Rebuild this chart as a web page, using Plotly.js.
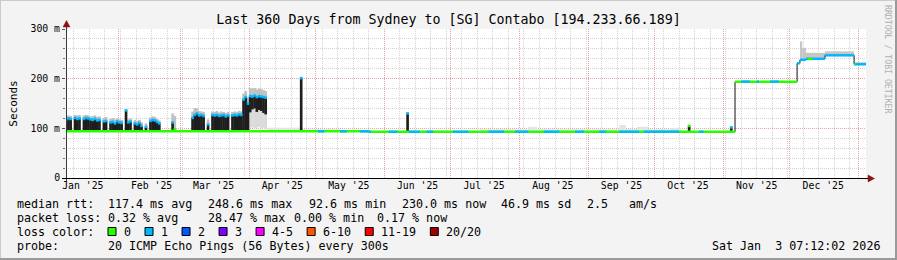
<!DOCTYPE html>
<html><head><meta charset="utf-8">
<script src="https://cdn.plot.ly/plotly-3.0.1.min.js"></script>
<style>html,body{margin:0;padding:0;background:#f3f3f3;}#chart{width:897px;height:260px;}</style>
</head><body><div id="chart"></div>
<script>
// ---------------- data ----------------
const titleText = 'Last 360 Days from Sydney to [SG] Contabo [194.233.66.189]';
const rangeStart = '2025-01-08 09:50';
const rangeEnd = '2026-01-04 07:00';

const monthStarts = ['2025-01-01','2025-02-01','2025-03-01','2025-04-01','2025-05-01','2025-06-01','2025-07-01','2025-08-01','2025-09-01','2025-10-01','2025-11-01','2025-12-01'];
const monthLabels = ["Jan '25","Feb '25","Mar '25","Apr '25","May '25","Jun '25","Jul '25","Aug '25","Sep '25","Oct '25","Nov '25","Dec '25"];
const yTickVals = [0,100,200,300];
const yTickLabels = ['0','100 m','200 m','300 m'];

// days where the median swings fast (dark columns), in ms
const darkDates = ['2025-01-08','2025-01-09','2025-01-10','2025-01-12','2025-01-13','2025-01-14','2025-01-16','2025-01-17','2025-01-18','2025-01-19','2025-01-20','2025-01-21','2025-01-22','2025-01-23','2025-01-25','2025-01-26','2025-01-28','2025-01-29','2025-01-30','2025-01-31',
 '2025-02-01','2025-02-02','2025-02-04','2025-02-05','2025-02-06','2025-02-08','2025-02-09','2025-02-10','2025-02-11','2025-02-13','2025-02-15','2025-02-16','2025-02-17','2025-02-18','2025-02-19',
 '2025-02-25','2025-02-26',
 '2025-03-06','2025-03-07','2025-03-08','2025-03-09','2025-03-10','2025-03-11','2025-03-13','2025-03-15','2025-03-16','2025-03-17','2025-03-18','2025-03-19','2025-03-20','2025-03-21','2025-03-22','2025-03-24','2025-03-25','2025-03-26','2025-03-27','2025-03-28','2025-03-29','2025-03-30','2025-03-31',
 '2025-04-01','2025-04-02','2025-04-03','2025-04-04','2025-04-05','2025-04-06','2025-04-07','2025-04-08',
 '2025-04-24','2025-06-11','2025-10-16','2025-11-04'];
const darkLow = [94,94,94,94,94,94,94,94,94,94,94,94,94,94,94,94,94,94,94,94,
 94,94,94,94,94,94,94,94,94,94,94,94,94,94,94,
 97,94,
 94,94,94,94,94,94,94,94,94,94,94,94,94,94,94,94,94,94,94,94,94,94,94,
 132,138,140,133,137,135,131,128,
 94,93,93,93];
const darkHigh = [117,120,119,121,119,120,119,121,120,118,117,119,116,117,114,115,112,113,110,114,
 112,111,136,112,114,110,108,111,105,103,115,117,116,113,110,
 112,98,
 121,127,130,126,127,125,108,127,126,127,125,126,127,124,126,126,127,126,128,127,158,163,150,
 165,164,166,163,165,164,163,162,
 201,130,105,102];
const smokeTop = [124,126,125,127,126,127,126,127,126,124,125,126,123,124,121,123,119,121,118,120,
 118,117,139,118,120,117,115,117,112,110,122,124,123,119,116,
 130,125,
 134,141,140,135,134,133,118,134,133,135,132,134,133,131,133,133,134,133,135,134,170,175,162,
 181,180,181,178,180,179,177,175,
 203,132,106,103];
const topLoss = [1,1,1,1,1,1,1,1,1,1,1,1,1,1,1,1,1,1,1,1,
 1,1,1,1,1,1,1,1,1,1,1,1,1,1,1,
 1,0,
 1,1,1,1,1,1,1,1,1,1,1,1,1,1,1,1,1,1,1,1,1,1,1,
 1,1,1,1,1,1,1,1,
 1,1,0,1];

// haze below the raised median in early April
const hazeDates = ['2025-04-01','2025-04-02','2025-04-03','2025-04-04','2025-04-05','2025-04-06','2025-04-07','2025-04-08'];
const hazeLow = [101,102,100,101,103,100,101,100];
const hazeHigh = [132,138,140,133,137,135,131,128];

// light smoke over the flat months
const smokeFrom = ['2025-04-09','2025-04-24','2025-06-18','2025-07-14','2025-08-05','2025-08-09','2025-09-15','2025-09-18','2025-09-23','2025-09-28','2025-10-08'];
const smokeTo   = ['2025-04-24','2025-05-12','2025-07-02','2025-08-05','2025-08-09','2025-09-15','2025-09-18','2025-09-23','2025-09-28','2025-10-08','2025-10-13'];
const smokeLow  = [94,94,93,93,93,93,93,93,93,93,93];
const smokeHigh = [101,98,96,98,103,98,107,99,103,98,101];

// smoke in December
const decFrom = ['2025-12-05 12:00','2025-12-06 12:00','2025-12-08 05:00','2025-12-16 19:00','2025-12-29 22:00'];
const decTo   = ['2025-12-06 12:00','2025-12-08 05:00','2025-12-16 19:00','2025-12-29 22:00','2026-01-04 07:00'];
const decLow  = [238,238,240,247,229];
const decHigh = [275,262,252,255,233];

// median rtt steps (ms)
const medDates = ['2025-01-08 09:50','2025-05-25','2025-11-06 05:00','2025-12-04 05:00','2025-12-05 12:00','2025-12-08 05:00','2025-12-16 19:00','2025-12-29 22:00','2026-01-04 07:00'];
const medVals  = [94,93,194,231,238,240,247,229,229];

// median colour by loss (pings lost of 20)
const segFrom = ['2025-01-08 09:50','2025-05-25','2025-11-06 05:00',
 '2025-12-04 05:00','2025-12-05 12:00','2025-12-08 05:00','2025-12-16 19:00','2025-12-29 22:00',
 '2025-12-09','2025-12-29 22:00',
 '2025-05-02','2025-05-12','2025-05-21','2025-05-25','2025-06-03','2025-06-12','2025-06-20','2025-07-02','2025-07-18','2025-07-30','2025-08-12','2025-08-26','2025-09-06','2025-09-15','2025-09-26','2025-10-21','2025-11-09','2025-11-16','2025-11-22'];
const segTo = ['2025-05-25','2025-11-06 05:00','2025-12-04 05:00',
 '2025-12-05 12:00','2025-12-08 05:00','2025-12-16 19:00','2025-12-29 22:00','2026-01-04 07:00',
 '2025-12-11','2025-12-30 12:00',
 '2025-05-05','2025-05-15','2025-05-25','2025-05-26','2025-06-07','2025-06-17','2025-06-23','2025-07-09','2025-07-25','2025-08-05','2025-08-19','2025-08-30','2025-09-09','2025-09-24','2025-10-12','2025-10-23','2025-11-13','2025-11-17','2025-11-26'];
const segVal = [94,93,194,
 231,238,240,247,229,
 240,229,
 94,94,94,93,93,93,93,93,93,93,93,93,93,93,93,93,194,194,194];
const segLoss = [0,0,0,
 1,1,1,1,1,
 0,0,
 1,1,1,1,1,1,1,1,1,1,1,1,1,1,1,1,1,1,1];

const lossColors = ['#26ff00','#00b8ff','#0059ff','#7e00ff','#ff00ff','#ff5500','#ff0000','#a10000'];
const lossLabels = ['0','1','2','3','4-5','6-10','11-19','20/20'];

const rttItems  = ['median rtt:','117.4 ms avg','248.6 ms max','92.6 ms min','230.0 ms now','46.9 ms sd','2.5','am/s'];
const lossItems = ['packet loss:','0.32 % avg','28.47 % max','0.00 % min','0.17 % now'];
const colorHead = 'loss color:';
const probeItems = ['probe:','20 ICMP Echo Pings (56 Bytes) every 300s'];
const stampText = 'Sat Jan  3 07:12:02 2026';
const creditText = 'RRDTOOL / TOBI OETIKER';

// ---------------- drawing ----------------
const FONT = '"DejaVu Sans Mono", monospace';
const W = 897, H = 260, M = {l:66, r:31, t:29, b:82};
const PW = W - M.l - M.r, PH = H - M.t - M.b;
const px = x => (x - M.l) / PW;
const py = y => (M.t + PH - y) / PH;
const DAY = 86400000;
const nb = s => s.replace(/ /g, '\u00a0');
const toMs = s => { const p = s.split(' '); return Date.parse(p[0] + 'T' + (p[1] || '00:00') + ':00Z'); };
const toStr = ms => new Date(ms).toISOString().replace('T', ' ').slice(0, 19);

const noon = darkDates.map(d => d + ' 12:00');
const colW = DAY * 1.2;
const traces = [];

function rectBars(from, to, lo, hi, color) {
  return {type:'bar', x: from.map((f,i) => toStr((toMs(f) + toMs(to[i])) / 2)),
    width: from.map((f,i) => toMs(to[i]) - toMs(f)),
    base: lo, y: hi.map((h,i) => h - lo[i]),
    marker:{color: color, line:{width:0}}, hoverinfo:'skip', showlegend:false};
}
traces.push(rectBars(smokeFrom, smokeTo, smokeLow, smokeHigh, '#e4e4e4'));
traces.push(rectBars(decFrom, decTo, decLow, decHigh, '#c6c6c6'));
traces.push({type:'bar', x: hazeDates.map(d => d + ' 12:00'), width: colW, base: hazeLow,
  y: hazeHigh.map((h,i) => h - hazeLow[i]), marker:{color:'#dadada', line:{width:0}}, hoverinfo:'skip', showlegend:false});
traces.push({type:'bar', x: noon, width: colW, base: darkHigh, y: smokeTop.map((s,i) => s - darkHigh[i]),
  marker:{color:'#c0c0c0', line:{width:0}}, hoverinfo:'skip', showlegend:false});
traces.push({type:'bar', x: noon, width: colW, base: darkLow, y: darkHigh.map((h,i) => h - darkLow[i]),
  marker:{color:'#1e1e1e', line:{width:0}}, hoverinfo:'skip', showlegend:false});

traces.push({type:'scatter', mode:'lines', x: medDates, y: medVals, line:{color:'#111', width:1, shape:'hv'}, hoverinfo:'skip', showlegend:false});

let cur = null;
segFrom.forEach((f, i) => {
  if (!cur || cur.loss !== segLoss[i]) {
    cur = {loss: segLoss[i], x: [], y: []};
    traces.push({type:'scatter', mode:'lines', x: cur.x, y: cur.y, connectgaps:false,
      line:{color: lossColors[segLoss[i]], width:2.5}, hoverinfo:'skip', showlegend:false});
  }
  cur.x.push(f, segTo[i], null);
  cur.y.push(segVal[i], segVal[i], null);
});

traces.push({type:'scatter', mode:'markers', x: noon, y: darkHigh,
  marker:{symbol:'square', size:2.6, color: topLoss.map(l => lossColors[l]), line:{width:0}}, hoverinfo:'skip', showlegend:false});

traces.push({type:'scatter', x: [], y: [], xaxis:'x2', yaxis:'y', showlegend:false, hoverinfo:'skip'});

const tickFont = {family: FONT, size: 9.8, color: '#000'};
const gridRed = '#eba4a4', gridGrey = '#d4d4d4';

const shapes = [];
const line = (x0,y0,x1,y1,color,w) => shapes.push({type:'line', xref:'paper', yref:'paper', x0:px(x0), y0:py(y0), x1:px(x1), y1:py(y1), line:{color:color, width:w}});
line(0, 0.5, W, 0.5, '#cbcbcb', 1);
line(0.5, 0, 0.5, H, '#cbcbcb', 1);
line(0, H-1, W, H-1, '#9a9a9a', 2);
line(W-1, 0, W-1, H, '#9a9a9a', 2);
line(66.5, 181, 66.5, 25, '#3a3a3a', 1);
line(62, 178.5, 869, 178.5, '#000', 1);
const tri = (pts, color) => shapes.push({type:'path', xref:'paper', yref:'paper',
  path: 'M' + pts.map(p => px(p[0]) + ',' + py(p[1])).join(' L') + ' Z', fillcolor: color, line:{color: color, width:0.5}});
tri([[63,27],[66.5,20.5],[70,27]], '#8e1010');
tri([[868,175],[874.5,178.5],[868,182]], '#8e1010');

// legend text layout (pixel positions)
const ann = [];
const rowY = [204, 218, 232, 246];
const rttX = [16, 107.3, 207.3, 308, 400.7, 500, 586, 628.3];
const lossX = [16, 107.3, 207.3, 293, 376];
const probeX = [16, 107.3];
const txt = (s, x, y, anchor) => ann.push({xref:'paper', yref:'paper', x: px(x), y: py(y), xanchor: anchor || 'left', yanchor:'middle',
  text: nb(s), showarrow:false, borderpad:0, font:{family: FONT, size: 11.66, color:'#000'}});
rttItems.forEach((s, i) => txt(s, rttX[i], rowY[0]));
lossItems.forEach((s, i) => txt(s, lossX[i], rowY[1]));
txt(colorHead, 16, rowY[2]);
probeItems.forEach((s, i) => txt(s, probeX[i], rowY[3]));
let lx = 108;
lossLabels.forEach((lab, i) => {
  shapes.push({type:'rect', xref:'paper', yref:'paper', x0: px(lx), x1: px(lx + 8), y0: py(235.5), y1: py(227.5),
    fillcolor: lossColors[i], line:{color:'#000', width:1}});
  txt(lab, lx + 15, rowY[2]);
  lx = lx + 15 + lab.length * 7.02 + 15;
});
txt(stampText, 881, rowY[3], 'right');
ann.push({xref:'paper', yref:'paper', x: px(888), y: py(59), xanchor:'center', yanchor:'middle', text: nb(creditText), textangle: 90,
  showarrow:false, borderpad:0, font:{family: FONT, size: 8.2, color:'#b0b0b0'}});

const layout = {
  width: W, height: H, margin: M,
  paper_bgcolor: '#f3f3f3', plot_bgcolor: '#ffffff',
  barmode: 'overlay', showlegend: false,
  title: {text: titleText, x: 0.5, xref: 'container', y: 1 - 19/H, yref: 'container', yanchor: 'middle',
    font: {family: FONT, size: 13.3, color: '#000'}},
  xaxis: {type:'date', range:[rangeStart, rangeEnd], tickmode:'linear', tick0: monthStarts[0], dtick:'M1',
    showgrid:true, gridcolor: gridRed, griddash:'1px,1px', gridwidth:1, showticklabels:false, ticks:'',
    zeroline:false, showline:false, fixedrange:true,
    minor:{showgrid:true, tick0:'2025-01-12', dtick: 7*DAY, gridcolor: gridGrey, griddash:'1px,1px', gridwidth:1}},
  xaxis2: {type:'date', overlaying:'x', anchor:'y', side:'bottom', range:[rangeStart, rangeEnd],
    tickmode:'array', tickvals: monthStarts.map(m => toStr(toMs(m) + 15*DAY)), ticktext: monthLabels,
    showgrid:false, ticks:'', zeroline:false, showline:false, tickfont: tickFont, fixedrange:true},
  yaxis: {range:[0,300], tickmode:'array', tickvals: yTickVals, ticktext: yTickLabels,
    showgrid:true, gridcolor: gridRed, griddash:'1px,1px', gridwidth:1, zeroline:false, showline:false,
    ticks:'outside', ticklen:3, tickcolor:'#555', tickfont: tickFont, automargin:false, fixedrange:true,
    minor:{tick0:0, dtick:20, showgrid:true, gridcolor: gridGrey, griddash:'1px,1px', gridwidth:1, ticks:'outside', ticklen:2, tickcolor:'#777'},
    title:{text:'Seconds', standoff: 10, font:{family: FONT, size: 11, color:'#000'}}},
  shapes: shapes, annotations: ann
};
Plotly.newPlot('chart', traces, layout, {staticPlot:true, displayModeBar:false});
</script></body></html>
